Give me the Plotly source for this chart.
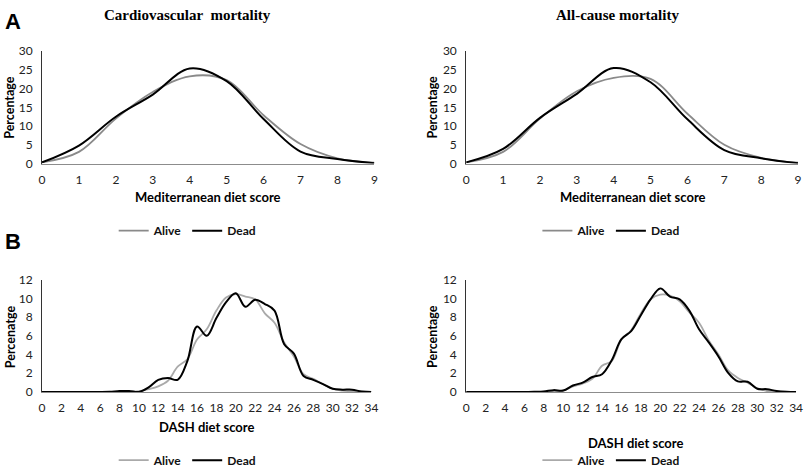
import plotly.graph_objects as go

W, H = 810, 475

# ---------------- data ----------------
med_x = [0, 1, 2, 3, 4, 5, 6, 7, 8, 9]
cvd_med_alive = [0.3, 3.1, 12.0, 19.1, 23.3, 22.3, 12.9, 5.2, 1.4, 0.2]
cvd_med_dead = [0.3, 4.8, 12.5, 18.4, 25.4, 22.0, 11.9, 3.2, 1.2, 0.1]
all_med_alive = [0.3, 3.1, 12.0, 19.3, 22.9, 22.6, 13.3, 5.0, 1.5, 0.2]
all_med_dead = [0.3, 3.9, 12.2, 18.6, 25.5, 21.7, 11.8, 3.6, 1.4, 0.1]

dash_x = list(range(0, 35))
cvd_dash_alive = [0, 0, 0, 0, 0, 0, 0, 0, 0.02, 0.05, 0.1, 0.3, 0.6, 1.2, 2.7, 3.5,
                  5.6, 6.7, 8.7, 10.1, 10.45, 10.2, 9.9, 8.4, 7.4, 5.3, 3.8, 1.9,
                  1.4, 0.85, 0.35, 0.15, 0.07, 0.03, 0]
cvd_dash_dead = [0, 0, 0, 0, 0, 0, 0, 0.02, 0.1, 0.1, 0.0, 0.5, 1.3, 1.5, 1.3, 3.3,
                 7.0, 6.0, 7.9, 9.6, 10.55, 9.1, 9.85, 9.4, 8.7, 5.1, 4.1, 1.7,
                 1.3, 0.85, 0.35, 0.25, 0.25, 0.05, 0]
all_dash_alive = [0, 0, 0, 0, 0, 0, 0, 0, 0.03, 0.1, 0.15, 0.6, 0.9, 1.4, 2.8, 3.3,
                  5.6, 6.6, 8.4, 9.9, 10.4, 10.3, 9.7, 8.5, 7.4, 5.5, 4.0, 2.3,
                  1.5, 1.0, 0.4, 0.1, 0.05, 0.02, 0]
all_dash_dead = [0, 0, 0, 0, 0, 0, 0, 0.02, 0.05, 0.2, 0.15, 0.7, 1.0, 1.6, 1.9, 3.4,
                 5.65, 6.5, 8.2, 9.9, 11.07, 10.2, 9.9, 8.7, 6.7, 5.3, 3.8, 2.05,
                 1.13, 1.1, 0.35, 0.3, 0.1, 0.02, 0]

series_names = ["Alive", "Dead"]
med_ticks = list(range(0, 10))
dash_ticks = list(range(0, 35, 2))

# ---------------- layout helpers ----------------
def px_x(p):
    return p / W

def px_y(p):
    return 1 - p / H

panels = [
    dict(xa="x", ya="y", xp=(39.5, 376), yp=(45, 162), x=med_x, a=cvd_med_alive, d=cvd_med_dead,
         ac="#8a8a8a", lg="legend", xr=[0, 9], yr=[0, 30], xt=med_ticks, yd=5),
    dict(xa="x2", ya="y2", xp=(469, 805), yp=(45, 162), x=med_x, a=all_med_alive, d=all_med_dead,
         ac="#8a8a8a", lg="legend2", xr=[0, 9], yr=[0, 30], xt=med_ticks, yd=5),
    dict(xa="x3", ya="y3", xp=(39.5, 373), yp=(283, 400), x=dash_x, a=cvd_dash_alive, d=cvd_dash_dead,
         ac="#aaaaaa", lg="legend3", xr=[0, 34], yr=[0, 12], xt=dash_ticks, yd=2),
    dict(xa="x4", ya="y4", xp=(469, 803), yp=(283, 400), x=dash_x, a=all_dash_alive, d=all_dash_dead,
         ac="#aaaaaa", lg="legend4", xr=[0, 34], yr=[0, 12], xt=dash_ticks, yd=2),
]

fig = go.Figure()
layout = dict(
    width=W, height=H, margin=dict(l=0, r=0, t=0, b=0),
    paper_bgcolor="white", plot_bgcolor="white", showlegend=True,
)

tick_font = dict(family="Lato, Open Sans, sans-serif", size=12, color="#222")
legend_pos = {"legend": (187, 232), "legend2": (616, 232), "legend3": (187, 471), "legend4": (616, 471)}

for i, p in enumerate(panels):
    fig.add_trace(go.Scatter(x=p["x"], y=p["a"], mode="lines", name=series_names[0],
                             line=dict(color=p["ac"], width=1.8, shape="spline", smoothing=1.0),
                             xaxis=p["xa"], yaxis=p["ya"], legend=p["lg"]))
    fig.add_trace(go.Scatter(x=p["x"], y=p["d"], mode="lines", name=series_names[1],
                             line=dict(color="black", width=2.0, shape="spline", smoothing=1.0),
                             xaxis=p["xa"], yaxis=p["ya"], legend=p["lg"]))
    xkey = "xaxis" + ("" if i == 0 else str(i + 1))
    ykey = "yaxis" + ("" if i == 0 else str(i + 1))
    layout[xkey] = dict(
        domain=[px_x(p["xp"][0]), px_x(p["xp"][1])], anchor=p["ya"], range=p["xr"],
        tickmode="array", tickvals=p["xt"], ticktext=[str(t) for t in p["xt"]],
        showgrid=False, zeroline=False, showline=True, linecolor="#8c8c8c", linewidth=1,
        ticks="", tickfont=tick_font, fixedrange=True, ticklabeloverflow="allow",
        ticklabelstandoff=5,
    )
    layout[ykey] = dict(
        domain=[px_y(p["yp"][1]), px_y(p["yp"][0])], anchor=p["xa"], range=p["yr"],
        dtick=p["yd"], tick0=0, showgrid=False, zeroline=False, showline=True,
        linecolor="#333333", linewidth=1, ticks="", tickfont=tick_font, fixedrange=True,
        ticklabeloverflow="allow", ticklabelstandoff=6,
    )
    lx, ly = legend_pos[p["lg"]]
    layout[p["lg"]] = dict(
        orientation="h", x=px_x(lx), y=px_y(ly), xanchor="center", yanchor="middle",
        font=dict(family="Lato, Open Sans, sans-serif", size=12, color="#111", weight="bold"),
        bgcolor="rgba(0,0,0,0)", itemwidth=30, tracegroupgap=0,
    )

fig.update_layout(**layout)

annots = []
def ann(text, x, y, size, family, bold=True, angle=0):
    annots.append(dict(text=text, x=px_x(x), y=px_y(y), xref="paper", yref="paper",
                       showarrow=False, xanchor="center", yanchor="middle", textangle=angle,
                       font=dict(family=family, size=size, color="black",
                                 weight="bold" if bold else "normal")))

serif = "Liberation Serif, Times New Roman, serif"
sans = "Lato, Open Sans, sans-serif"
ann("A", 10, 14, 22, "Liberation Sans, Arial, sans-serif")
ann("B", 10, 243, 22, "Liberation Sans, Arial, sans-serif")
ann("Cardiovascular  mortality", 187, 7, 15, serif)
ann("All-cause mortality", 622, 7, 15, serif)
ann("Mediterranean diet score", 208, 197, 13, sans)
ann("Mediterranean diet score", 638, 197, 13, sans)
ann("DASH diet score", 206, 436, 13, sans)
ann("DASH diet score", 640, 453, 13, sans)
ann("Percentage", 7, 103, 12.5, sans, angle=-90)
ann("Percentage", 435, 103, 12.5, sans, angle=-90)
ann("Percenatge", 7, 342, 12.5, sans, angle=-90)
ann("Percentage", 435, 342, 12.5, sans, angle=-90)
fig.update_layout(annotations=annots)

fig.write_html("out.html", config={"displayModeBar": False},
               post_script="document.body.style.margin='0';document.body.style.overflow='hidden';")
